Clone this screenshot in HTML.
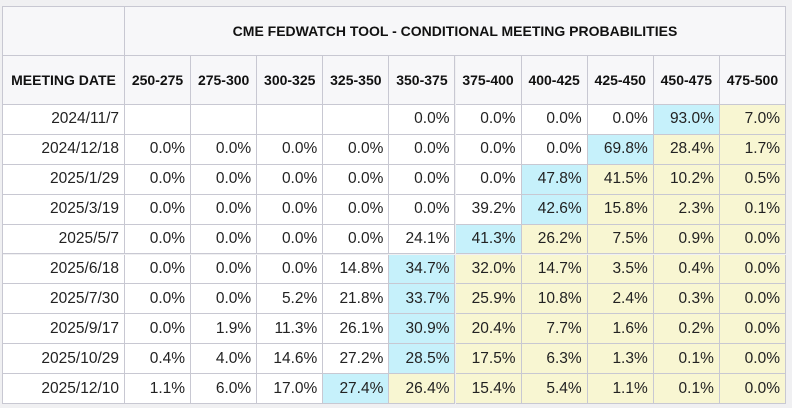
<!DOCTYPE html>
<html><head><meta charset="utf-8"><style>
html,body{margin:0;padding:0;width:792px;height:408px;background:#f0f0f2;overflow:hidden;font-family:"Liberation Sans",Arial,sans-serif;}
#tbl{position:absolute;left:0;top:0;width:792px;height:408px;}
.c{position:absolute;box-sizing:border-box;border-right:1px solid #c8c8d2;border-bottom:1px solid #c8c8d2;color:#222;font-size:15.5px;display:flex;align-items:center;}
.h{background:#f7f7f9;font-weight:bold;font-size:14px;justify-content:center;color:#111;}
.d{justify-content:flex-end;padding-right:5px;background:#fff;}
.cy{background:#c6f1fb;}
.ye{background:#f8f6d2;}
</style></head><body>
<div id="tbl"></div>
<script>
const dates=["2024/11/7","2024/12/18","2025/1/29","2025/3/19","2025/5/7","2025/6/18","2025/7/30","2025/9/17","2025/10/29","2025/12/10"];
const ranges=["250-275","275-300","300-325","325-350","350-375","375-400","400-425","425-450","450-475","475-500"];
const r1=[null,null,null,null,0.0,0.0,0.0,0.0,93.0,7.0];
const r2=[0.0,0.0,0.0,0.0,0.0,0.0,0.0,69.8,28.4,1.7];
const r3=[0.0,0.0,0.0,0.0,0.0,0.0,47.8,41.5,10.2,0.5];
const r4=[0.0,0.0,0.0,0.0,0.0,39.2,42.6,15.8,2.3,0.1];
const r5=[0.0,0.0,0.0,0.0,24.1,41.3,26.2,7.5,0.9,0.0];
const r6=[0.0,0.0,0.0,14.8,34.7,32.0,14.7,3.5,0.4,0.0];
const r7=[0.0,0.0,5.2,21.8,33.7,25.9,10.8,2.4,0.3,0.0];
const r8=[0.0,1.9,11.3,26.1,30.9,20.4,7.7,1.6,0.2,0.0];
const r9=[0.4,4.0,14.6,27.2,28.5,17.5,6.3,1.3,0.1,0.0];
const r10=[1.1,6.0,17.0,27.4,26.4,15.4,5.4,1.1,0.1,0.0];
const rows=[r1,r2,r3,r4,r5,r6,r7,r8,r9,r10];

const T=document.getElementById('tbl');
const L=3,R=786,TOP=7,FW=122,CW=(R-L-FW)/10,H1=49,H2=49,RH=29.9;
function cell(x,y,w,h,cls,txt){
  const d=document.createElement('div');
  d.className='c '+cls;
  d.style.left=x+'px';d.style.top=y+'px';d.style.width=w+'px';d.style.height=h+'px';
  d.textContent=txt;
  T.appendChild(d);return d;
}
const ob=document.createElement('div');
ob.style.cssText=`position:absolute;left:${L-1}px;top:${TOP-1}px;width:${R-L+1}px;height:${H1+H2+RH*10+1}px;border-left:1px solid #c8c8d2;border-top:1px solid #c8c8d2;box-sizing:border-box;`;


T.appendChild(ob);
let e=cell(L,TOP,FW,H1,'h','');


e=cell(L+FW,TOP,CW*10,H1,'h','CME FEDWATCH TOOL - CONDITIONAL MEETING PROBABILITIES');


e=cell(L,TOP+H1,FW,H2,'h','MEETING DATE');


ranges.forEach((r,i)=>{
  const c=cell(L+FW+CW*i,TOP+H1,CW,H2,'h',r);
  
  
});
rows.forEach((row,ri)=>{
  const y=TOP+H1+H2+RH*ri;
  const dc=cell(L,y,FW,RH,'d',dates[ri]);
  
  
  let mx=-1,mi=-1;
  row.forEach((v,i)=>{if(v!==null&&v>mx){mx=v;mi=i;}});
  row.forEach((v,i)=>{
    let cls='d';
    if(i===mi)cls+=' cy';else if(i>mi)cls+=' ye';
    const c=cell(L+FW+CW*i,y,CW,RH,cls,v===null?'':v.toFixed(1)+'%');
    
    
  });
});
</script>
</body></html>
